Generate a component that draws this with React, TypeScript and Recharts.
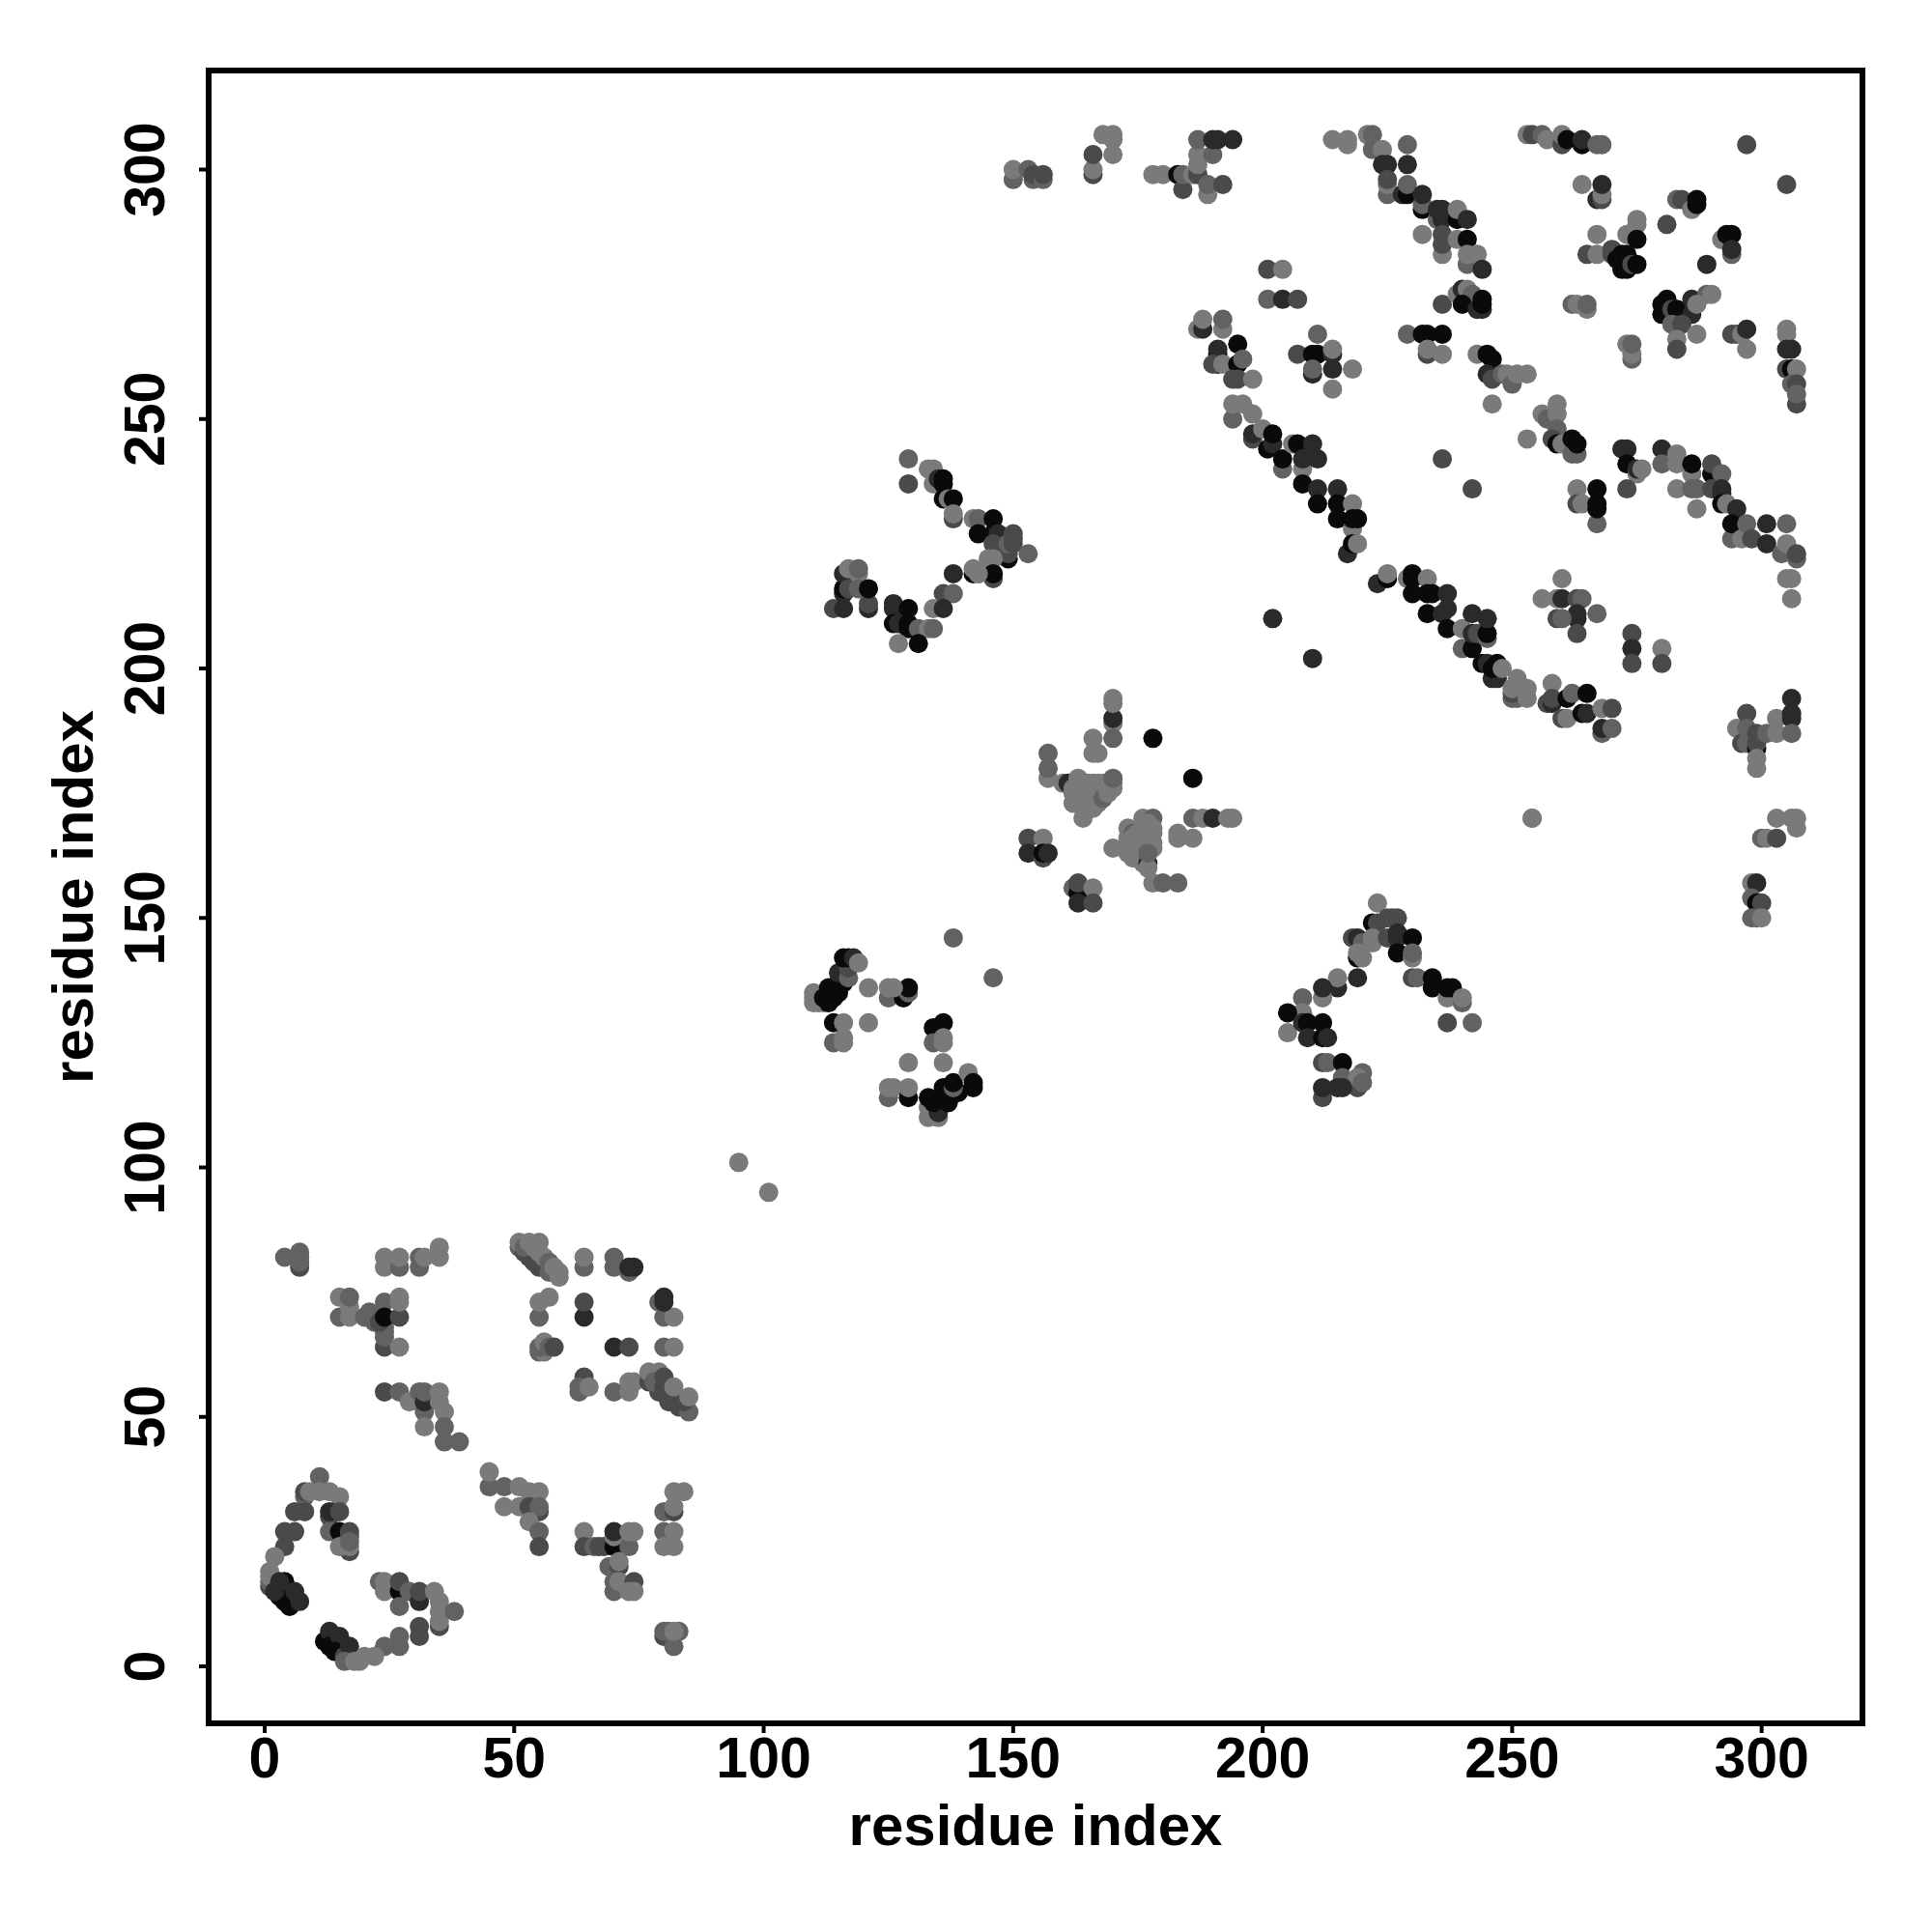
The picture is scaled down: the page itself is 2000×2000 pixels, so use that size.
import React from "react";
import {
  ScatterChart,
  Scatter,
  XAxis,
  YAxis,
  ZAxis,
  ReferenceArea,
} from "recharts";

type Contact = [number, number, number];

// [residue i, residue j, shade level] with 0 the darkest, drawn in list order
const lowerLeftC: Contact[] = [
  [11,38,3],[8,34,3],[8,35,2],[9,35,4],[11,35,4],[13,35,4],[15,34,4],[6,31,2],[8,31,2],[13,30,2],[13,31,1],[15,31,2],
  [13,27,3],[15,27,0],[17,26,2],[17,27,2],[17,23,2],[15,24,4],[17,24,4],[17,25,3],[4,27,2],[6,27,2],[4,24,2],[2,22,4],
  [1,16,2],[1,17,3],[1,19,4],[1,18,4],[3,14,0],[4,13,0],[5,12,0],[2,15,1],[4,17,0],[3,17,1],[6,15,1],[7,13,1],
];
const lowerLeftTail: Contact[] = [
  [23,17,3],[24,17,4],[24,15,4],[27,15,0],[27,17,2],[27,12,3],[29,15,3],[31,13,1],[31,15,2],[34,15,4],[35,8,2],[35,9,4],[35,11,4],[35,13,4],[38,11,3],
  [31,8,2],[31,6,2],[27,6,3],[27,4,3],[24,4,3],[12,5,0],[13,7,1],[13,4,0],[15,6,1],[14,3,0],[16,2,2],[17,4,1],[16,1,3],[18,1,4],[19,1,4],[20,2,4],[22,2,4],
];
const topLeftRow: Contact[] = [
  [4,82,3],[7,80,2],[7,81,3],[7,82,3],[7,83,3],[24,82,4],[24,80,4],[27,80,3],[27,82,4],[31,80,3],[31,82,3],[32,82,4],[35,82,4],[35,84,4],
];
const innerCross: Contact[] = [
  [15,70,3],[17,70,4],[15,74,4],[17,72,4],[17,74,3],[20,70,3],[21,71,3],[22,69,3],[24,64,2],[24,66,3],[24,67,3],[24,68,3],[24,73,3],[23,69,2],[24,70,0],[27,64,4],[27,70,2],[27,73,4],[27,74,4],
];
const midDiagonal: Contact[] = [
  [24,55,2],[27,55,3],[29,53,4],[31,55,3],[32,51,3],[32,53,1],[32,55,3],[32,48,4],[35,53,4],[35,55,4],[36,51,4],[36,48,3],[36,45,3],[39,45,3],
];
const sheetCrossing: Contact[] = [
  [51,84,3],[52,83,2],[53,82,2],[54,81,2],[55,80,2],[51,85,4],[52,84,3],[53,85,4],[54,84,4],[55,85,4],[55,83,4],[56,82,4],[57,79,3],[57,81,3],[58,80,4],[59,78,4],[59,79,4],
  [64,80,3],[64,82,4],[70,80,3],[70,82,3],[73,79,3],[73,80,1],[74,80,1],
  [55,70,3],[55,73,4],[57,74,4],[64,70,1],[64,73,2],[79,73,3],[80,70,3],[82,70,4],[80,73,1],[80,74,1],
  [55,63,3],[56,63,4],[55,64,3],[56,65,4],[57,64,3],[58,64,2],[70,64,1],[73,64,2],[80,64,3],[82,64,4],
  [64,58,2],[63,55,3],[63,56,3],[65,56,4],[70,55,3],[73,55,4],[73,57,4],[74,57,4],
  [77,57,2],[79,55,2],[81,53,2],[83,52,2],[85,51,3],[77,59,4],[79,59,4],[78,57,3],[80,58,2],[80,56,2],[81,54,2],[84,53,2],[82,56,4],[85,54,4],
];
const lowerMiddle: Contact[] = [
  [45,36,3],[45,39,4],[48,36,3],[51,36,4],[53,35,4],[55,35,4],[48,32,4],[51,32,4],[53,32,2],[55,31,2],[55,32,3],[53,29,4],[55,27,3],[55,24,2],
  [64,27,4],[64,24,2],[66,24,3],[67,24,2],[68,24,2],[70,24,0],[70,26,4],[70,27,1],[73,24,3],[73,27,4],[74,27,4],
  [69,20,3],[71,20,2],[71,21,4],[70,15,3],[70,17,3],[71,17,4],[74,17,2],[73,15,4],[74,15,4],
  [80,31,3],[82,31,2],[82,32,4],[82,35,4],[84,35,4],[80,27,3],[82,27,4],[80,24,4],[82,24,4],
  [80,6,2],[82,4,3],[80,7,3],[81,7,3],[83,7,3],[82,7,4],
];
const isolatedPair: Contact[] = [[95,101,4],[101,95,4]];
const upperChevron: Contact[] = [
  [110,133,4],[110,134,4],[110,135,4],[111,133,4],[112,133,4],[112,134,0],[113,133,0],[114,134,0],[113,136,0],[114,136,0],[115,135,0],[115,137,0],[116,137,0],[115,139,1],[116,139,1],[117,138,3],[117,140,2],[116,142,0],[117,142,0],[118,142,1],[119,141,4],
  [114,129,0],[116,129,4],[114,125,3],[116,126,4],[116,125,4],[121,136,4],[121,129,4],
  [125,134,3],[128,134,0],[129,135,3],[129,136,0],[125,136,4],[126,136,4],[138,146,3],[146,138,3],
  [134,128,0],[136,129,0],[134,125,3],[136,126,4],[136,125,4],[129,121,4],[136,121,4],
  [125,114,3],[125,116,4],[126,116,4],[129,114,0],[129,116,4],
  [133,110,4],[135,110,4],[133,112,4],[135,111,1],[133,114,0],[134,113,0],[137,113,0],[136,116,0],[139,115,0],[138,116,3],[138,117,0],[141,119,4],[142,116,0],[142,117,0],
];
const centralBlob: Contact[] = [
  [170,189,4],[170,190,1],[170,186,3],[170,193,4],[170,194,4],[178,186,0],[186,178,0],[166,186,4],[166,183,4],[167,183,4],
  [157,178,4],[157,180,3],[157,183,3],[160,177,4],[161,177,1],
  [162,173,4],[162,175,4],[162,176,4],[163,173,4],[163,175,4],[163,177,4],[163,178,4],[164,172,4],[164,174,4],[164,176,4],[165,172,4],[165,173,4],[165,175,4],[165,177,4],[166,172,4],[166,173,4],[166,175,4],[166,177,4],
  [167,173,4],[167,174,4],[167,175,4],[167,177,4],[168,176,4],[168,177,4],[168,174,3],[169,175,4],[169,176,4],[170,176,4],[170,177,4],[170,178,3],[164,170,4],
  [186,170,3],[188,170,4],[190,170,1],[193,170,4],[194,170,4],
  [176,170,4],[178,170,3],[177,169,4],[176,168,4],[178,168,4],[173,168,4],[173,166,4],[174,167,3],[175,167,4],[177,167,4],[178,167,4],[174,166,4],[175,166,4],[176,166,4],[175,164,4],[176,165,4],[177,165,4],[178,165,4],
  [173,164,4],[174,164,4],[176,164,4],[178,164,4],[173,163,4],[174,163,4],[175,163,4],[174,162,4],[175,162,4],[176,162,4],[176,161,4],[176,163,4],[177,161,1],[177,160,4],[177,163,3],[170,164,4],[183,166,4],[183,167,4],[186,166,4],
  [178,157,4],[180,157,3],[183,157,3],
  [153,166,2],[156,166,4],[153,163,1],[156,162,2],[156,163,0],[157,163,1],
  [162,156,3],[163,155,0],[163,157,2],[166,156,4],[163,153,1],[166,153,2],
];
const leftArrow: Contact[] = [
  [129,242,3],[129,237,2],[133,240,4],[134,240,4],[134,237,4],[135,238,1],[136,238,0],[136,237,0],[136,234,0],[137,234,4],[138,234,0],[138,230,2],[138,231,4],
  [142,230,4],[143,230,3],[146,230,0],[143,227,0],[146,227,0],[147,227,1],[146,225,2],[149,222,0],[149,223,2],[149,225,3],[150,225,2],[150,226,2],[150,227,2],[153,223,3],
  [145,222,4],[146,222,4],[146,218,2],[146,219,0],[142,219,0],[142,220,4],[143,219,4],
  [138,219,1],[136,215,2],[138,215,3],[134,212,4],[136,212,1],
  [126,213,1],[126,212,1],[129,212,0],[126,209,0],[127,209,1],[129,208,0],[129,209,0],[131,208,3],[133,208,4],[134,208,3],[127,205,4],[131,205,0],
  [114,212,2],[116,212,1],[121,212,1],[121,213,2],
  [116,215,1],[116,216,0],[116,219,1],[117,216,2],[117,220,4],[119,219,4],[119,220,3],[119,216,3],[121,216,0],
];
const rightArrow: Contact[] = [
  [223,153,4],[222,149,0],[223,149,2],[225,150,2],[226,150,2],[227,150,2],[218,146,2],[219,146,1],[220,145,3],[222,145,4],[222,146,4],[225,146,2],[227,147,1],[227,146,1],[230,146,0],[227,143,0],[230,142,4],[230,143,3],
  [219,142,0],[219,143,4],[220,142,4],[219,138,1],[215,136,1],[215,138,4],[212,134,4],[212,136,1],
  [230,138,2],[231,138,3],[234,136,0],[234,138,0],[237,134,4],[237,136,0],[238,136,0],[240,133,3],[240,134,4],[237,129,2],[242,129,3],
  [208,134,3],[208,131,4],[205,131,0],[205,127,4],[208,129,1],[209,129,0],[212,129,0],[209,126,1],[212,126,0],[213,126,1],
  [212,121,2],[213,121,3],[216,121,0],[216,118,3],[219,116,2],[220,119,3],[219,118,4],[220,117,3],[212,114,2],[212,116,1],[215,116,1],[216,116,1],
];
const topStrip: Contact[] = [
  [150,298,3],[150,300,4],[153,300,3],[154,298,3],[154,299,2],[156,298,3],[156,299,2],
  [166,299,2],[166,300,4],[166,303,2],[168,307,4],[170,303,4],[170,306,4],[170,307,4],
  [178,299,4],[180,299,4],[183,299,0],[184,296,2],[184,299,3],[186,299,4],[187,299,2],[189,295,4],[189,297,3],[192,297,2],
  [187,303,4],[187,301,4],[187,306,3],[190,303,3],[190,306,1],[191,306,1],[194,306,1],
];
const topRightStrand: Contact[] = [
  [214,306,4],[217,305,4],[217,306,4],[221,307,4],[222,304,3],[222,307,3],[224,304,4],[229,305,3],
  [224,301,1],[225,301,1],[229,301,1],[225,295,3],[225,297,4],[225,298,2],[228,295,1],[229,295,0],[229,297,3],
  [232,292,0],[232,293,3],[232,295,1],[235,290,3],[235,292,1],[236,292,1],[236,290,1],[239,290,0],[239,292,4],[241,290,1],[232,287,4],[236,283,4],[236,285,2],[236,287,2],[239,286,4],[241,286,0],
  [241,281,3],[241,283,4],[243,283,4],[244,280,1],
  [236,273,2],[239,275,4],[240,275,4],[240,276,1],[241,276,4],[242,275,3],[240,273,0],[243,272,1],[244,272,1],[244,273,0],[244,274,0],
  [229,267,3],[232,267,0],[233,267,0],[236,267,0],[233,263,2],[233,264,4],[236,263,4],
  [243,263,4],[245,263,0],[246,262,0],[245,259,1],[246,258,2],[248,259,3],[249,259,4],[250,257,3],[251,259,4],[253,259,4],[246,253,4],[253,246,4],[236,242,2],
];
const leftBlock: Contact[] = [
  [201,280,2],[204,280,4],[201,274,3],[204,274,1],[207,274,2],[211,267,3],[207,263,2],[210,263,0],[211,263,0],[214,263,1],[214,264,4],[210,259,1],[210,260,3],[214,260,1],[218,260,4],[214,256,4],
  [187,268,4],[188,268,1],[188,270,4],[192,268,4],[192,270,3],[191,261,0],[191,263,0],[191,264,1],[195,265,0],[190,261,2],[192,261,4],[195,261,0],[196,262,3],[194,258,2],[195,258,2],[198,258,4],
];
const longDiagonal: Contact[] = [
  [194,250,3],[194,253,4],[196,253,4],[198,251,4],[198,246,2],[198,247,1],[200,248,4],[201,244,0],[202,245,1],[202,247,0],[204,240,3],[204,242,0],[206,245,4],[207,245,0],[208,240,4],[208,242,1],[210,245,1],[211,242,1],
  [208,237,0],[211,236,1],[215,236,1],[211,233,0],[215,233,0],[218,233,4],[215,230,0],[218,228,4],[218,230,0],[219,230,0],[217,223,1],[218,225,0],[219,225,4],
  [223,217,1],[225,218,0],[225,219,4],[229,218,4],[230,218,0],[230,219,0],[230,215,0],[233,218,4],[233,215,0],[234,215,0],[233,211,0],[236,211,1],[237,212,1],[237,215,1],[237,208,0],
  [240,204,3],[240,208,4],[242,204,0],[242,207,1],[242,211,1],[243,207,2],[245,206,3],[245,207,0],[245,210,1],
  [244,201,0],[245,201,1],[247,201,0],[246,198,1],[247,198,1],[246,200,0],[248,200,4],[250,194,3],[251,194,3],[250,195,2],[250,196,4],[251,198,4],[253,194,4],[253,196,4],
  [202,210,1],[210,202,1],[254,170,4],
];
const topRightRow: Contact[] = [
  [253,307,4],[254,307,2],[256,307,3],[257,306,4],[260,305,2],[260,307,4],[261,306,0],[264,305,0],[264,306,1],[267,305,3],[268,305,3],
  [264,297,4],[267,294,1],[268,294,2],[268,295,4],[268,297,1],
  [273,287,4],[275,289,4],[275,290,4],[275,286,0],[267,287,4],[281,289,2],
  [265,283,2],[267,283,4],[270,283,2],[270,284,2],[271,282,0],[272,280,0],[272,283,0],[273,280,0],[273,283,0],[274,281,2],[275,281,0],
  [283,294,3],[284,294,2],[286,292,4],[287,293,0],[287,294,0],[289,281,1],[292,286,4],[293,287,0],[294,287,0],[294,283,3],[294,284,1],[297,305,2],[305,297,2],
];
const rightMiddle: Contact[] = [
  [262,273,3],[263,273,4],[265,272,4],[265,273,3],
  [281,274,0],[280,273,0],[280,271,0],[282,272,2],[283,272,0],[286,271,1],[286,274,1],[289,275,3],[290,275,4],[287,273,4],[282,269,3],[284,269,2],[283,266,4],[283,264,2],[287,267,4],
  [294,267,2],[295,267,2],[296,267,4],[297,268,1],[297,264,4],
  [305,268,4],[305,267,4],[305,264,1],[306,264,1],[305,260,2],[306,260,0],[307,260,4],[306,257,3],[307,257,2],[307,253,2],[307,255,3],
  [273,265,4],[274,262,3],[274,263,4],[274,265,3],
];
const lowerStrand: Contact[] = [
  [256,251,4],[257,250,3],[259,253,4],[259,251,4],[259,248,3],[258,246,2],[259,245,0],[260,245,4],[262,243,3],[263,243,3],[262,246,0],[263,245,0],
  [272,244,1],[273,244,1],[273,241,0],[275,239,4],[275,240,1],[276,240,4],[273,236,2],
  [280,244,1],[280,241,3],[283,243,4],[283,241,4],[286,239,4],[286,241,0],[290,239,0],[290,241,2],[292,239,3],[283,236,4],[286,236,3],[287,236,3],[290,236,2],[292,235,1],[292,236,1],[287,232,4],[292,233,0],[293,233,4],[295,232,1],
  [242,236,2],[263,236,4],[263,233,2],[264,233,4],[267,229,3],[267,236,0],[267,233,0],[267,232,0],
  [294,226,3],[294,229,0],[296,226,4],[297,229,3],[298,226,2],[301,225,1],[301,229,1],[304,223,3],[305,225,4],[305,229,3],[307,222,3],[307,223,2],[305,218,4],[306,218,4],[306,214,4],
];
const smallPatches: Contact[] = [
  [256,214,4],[259,214,4],[260,218,4],[260,214,1],[263,214,2],[264,214,3],[263,210,1],[263,211,1],[259,210,2],[260,210,3],[267,211,3],[263,207,2],
  [274,207,2],[274,204,1],[274,201,2],[280,204,4],[280,201,2],[254,170,4],
  [258,197,4],[257,193,2],[258,193,1],[258,194,2],[261,194,0],[262,195,3],[260,190,2],[261,190,4],[264,191,0],[265,191,1],[265,195,0],[268,187,3],[268,188,1],[268,192,4],[270,188,3],[270,192,2],
  [295,188,4],[297,191,2],[296,185,2],[297,185,3],[299,184,0],[299,185,2],[297,188,3],[299,187,2],[301,187,3],[303,190,4],[303,187,4],[306,194,1],[306,190,1],[306,191,1],[306,187,3],[299,182,4],[299,180,4],
  [303,170,4],[306,170,4],[307,170,4],[307,168,4],[300,166,3],[301,166,4],[303,166,2],
  [298,157,4],[299,157,1],[298,154,3],[299,153,0],[300,153,2],[298,150,3],[299,150,3],[300,150,4],
];

const shades = ["#0a0a0a", "#2a2a2a", "#4a4a4a", "#626262", "#7a7a7a"];
const axisTicks = [0, 50, 100, 150, 200, 250, 300];

const contacts = [
  ...lowerLeftC, ...lowerLeftTail, ...topLeftRow, ...innerCross, ...midDiagonal, ...sheetCrossing,
  ...lowerMiddle, ...isolatedPair, ...upperChevron, ...centralBlob, ...leftArrow, ...rightArrow,
  ...topStrip, ...topRightStrand, ...leftBlock, ...longDiagonal, ...topRightRow, ...rightMiddle,
  ...lowerStrand, ...smallPatches,
].map(([i, j, level]) => ({ i, j, level }));

const FONT = "'Liberation Sans', Arial, sans-serif";
const X_DOMAIN = [-11.23, 320.2];
const Y_DOMAIN = [-11.42, 319.85];

const YTick = ({ x, y, payload }: any) => (
  <text
    x={x}
    y={y}
    textAnchor="middle"
    transform={`rotate(-90 ${x} ${y})`}
    fontFamily={FONT}
    fontWeight="bold"
    fontSize={59}
    fill="#000"
  >
    {payload.value}
  </text>
);

const Dot = ({ cx, cy, payload }: any) => (
  <circle cx={cx} cy={cy} r={10} fill={shades[payload.level]} />
);

const App = () => (
  <div style={{ position: "absolute", left: 0, top: 0, width: 2000, height: 2000 }}>
    <ScatterChart
      width={2000}
      height={2000}
      margin={{ top: 73, right: 72, bottom: 0, left: 0 }}
    >
      <XAxis
        type="number"
        dataKey="i"
        domain={X_DOMAIN}
        ticks={axisTicks}
        interval={0}
        height={216}
        allowDataOverflow
        axisLine={false}
        tickSize={10}
        tickMargin={4}
        tickLine={{ stroke: "#000", strokeWidth: 4 }}
        tick={{ fontFamily: FONT, fontWeight: "bold", fontSize: 59, fill: "#000" }}
        label={{
          value: "residue index",
          position: "insideBottom",
          offset: 90,
          style: { fontFamily: FONT, fontWeight: "bold", fontSize: 60, fill: "#000" },
        }}
      />
      <YAxis
        type="number"
        dataKey="j"
        domain={Y_DOMAIN}
        ticks={axisTicks}
        interval={0}
        width={216}
        allowDataOverflow
        axisLine={false}
        tickSize={10}
        tickMargin={36}
        tickLine={{ stroke: "#000", strokeWidth: 4 }}
        tick={<YTick />}
        label={{
          value: "residue index",
          position: "insideLeft",
          angle: -90,
          offset: 75,
          style: { fontFamily: FONT, fontWeight: "bold", fontSize: 60, fill: "#000", textAnchor: "middle" },
        }}
      />
      <ZAxis range={[254, 254]} />
      <Scatter data={contacts} isAnimationActive={false} shape={<Dot />} />
      <ReferenceArea
        x1={X_DOMAIN[0]}
        x2={X_DOMAIN[1]}
        y1={Y_DOMAIN[0]}
        y2={Y_DOMAIN[1]}
        fill="none"
        stroke="#000"
        strokeWidth={6}
        ifOverflow="visible"
      />
    </ScatterChart>
  </div>
);

export default App;
